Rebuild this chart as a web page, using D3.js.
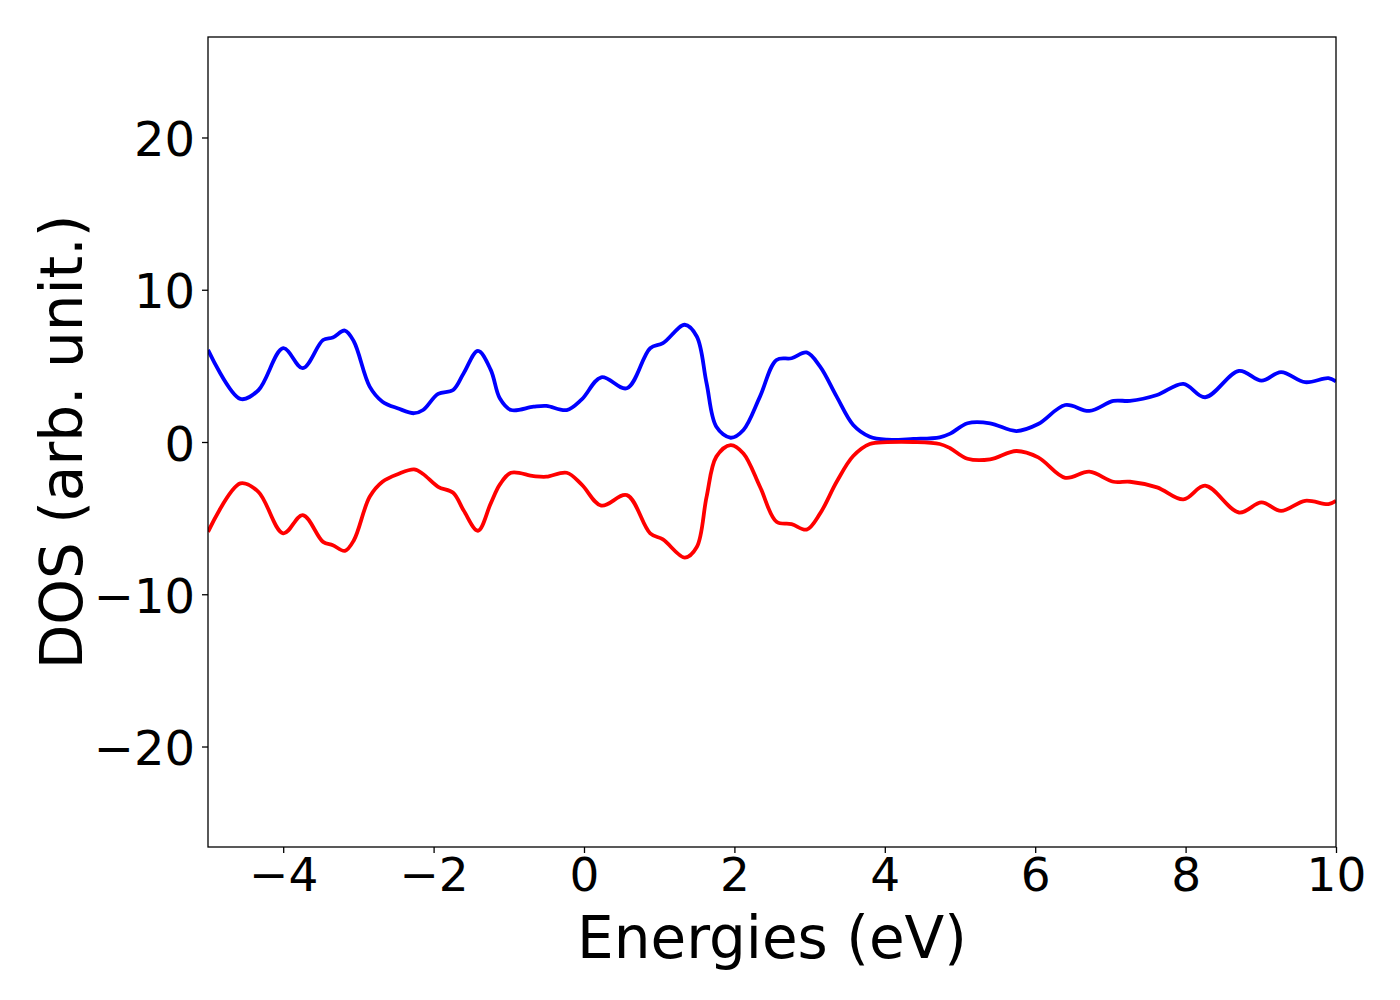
<!DOCTYPE html>
<html>
<head>
<meta charset="utf-8">
<script src="https://cdn.jsdelivr.net/npm/d3@7"></script>
<style>
  body { margin: 0; background: #fff; }
  text { font-family: "DejaVu Sans", sans-serif; }
</style>
</head>
<body>
<div id="chart_dos"></div>
<script>

// energies (eV), shared by both spin channels
var energies = [-5.00, -4.57, -4.33, -4.00, -3.74, -3.47, -3.34, -3.18, -3.06, -2.85,
    -2.68, -2.47, -2.26, -2.14, -1.94, -1.74, -1.60, -1.41, -1.24, -1.12,
    -0.97, -0.67, -0.50, -0.23, -0.03, 0.23, 0.57, 0.88, 1.05, 1.34,
    1.50, 1.63, 1.76, 1.95, 2.12, 2.34, 2.56, 2.76, 2.96, 3.14,
    3.36, 3.58, 3.80, 4.03, 4.38, 4.73, 4.87, 5.10, 5.40, 5.75,
    6.04, 6.40, 6.72, 7.04, 7.26, 7.62, 7.97, 8.26, 8.71, 9.01,
    9.27, 9.59, 9.90, 10.00];

// spin up (blue)
var dosUp = [6.05, 2.83, 3.40, 6.16, 4.85, 6.70, 6.86, 7.32, 6.60, 3.64,
    2.65, 2.20, 1.89, 2.10, 3.16, 3.42, 4.52, 5.99, 4.74, 2.87,
    2.10, 2.32, 2.37, 2.10, 2.80, 4.25, 3.53, 6.16, 6.49, 7.70,
    6.93, 3.86, 1.00, 0.28, 0.79, 2.98, 5.39, 5.50, 5.88, 4.95,
    2.98, 1.12, 0.35, 0.15, 0.20, 0.31, 0.55, 1.23, 1.23, 0.72,
    1.18, 2.43, 2.04, 2.70, 2.70, 3.09, 3.82, 2.94, 4.67, 4.03,
    4.59, 3.93, 4.19, 3.97];

// spin down (red)
var dosDown = [-5.90, -2.72, -3.27, -6.00, -4.80, -6.56, -6.78, -7.15, -6.45, -3.60,
    -2.61, -2.10, -1.80, -2.10, -2.94, -3.33, -4.50, -5.83, -4.03, -2.80,
    -2.02, -2.24, -2.28, -2.02, -2.80, -4.18, -3.49, -6.00, -6.40, -7.59,
    -6.90, -3.60, -0.96, -0.20, -0.75, -2.94, -5.24, -5.39, -5.75, -4.69,
    -2.61, -0.92, -0.13, -0.01, 0.00, -0.13, -0.41, -1.10, -1.14, -0.59,
    -1.01, -2.35, -1.95, -2.61, -2.61, -2.98, -3.77, -2.87, -4.63, -3.97,
    -4.52, -3.86, -4.08, -3.86];

var xTicks = [-4, -2, 0, 2, 4, 6, 8, 10];
var yTicks = [-20, -10, 0, 10, 20];

// set the dimensions and margins of the graph
var margin = { top: 37, right: 64, bottom: 153, left: 208 },
    width = 1400 - margin.left - margin.right,
    height = 1000 - margin.top - margin.bottom;

var svg = d3.select("#chart_dos")
    .append("svg")
    .attr("width", 1400)
    .attr("height", 1000)
    .append("g")
    .attr("transform", "translate(" + margin.left + "," + margin.top + ")");

var x = d3.scaleLinear().domain([-5, 10]).range([0, width]);
var y = d3.scaleLinear().domain([-26.6, 26.6]).range([height, 0]);

// matplotlib style minus sign
var fmt = function (d) { return String(d).replace("-", "\u2212"); };

// X axis
var gx = svg.append("g")
    .attr("transform", "translate(0," + height + ")")
    .call(d3.axisBottom(x).tickValues(xTicks).tickFormat(fmt).tickSize(6).tickPadding(5));
gx.select(".domain").remove();
gx.selectAll("line").attr("stroke", "#000").attr("stroke-width", 1.3);
gx.selectAll("text").attr("font-size", 47).attr("fill", "#000");

// Y axis
var gy = svg.append("g")
    .call(d3.axisLeft(y).tickValues(yTicks).tickFormat(fmt).tickSize(6).tickPadding(7));
gy.select(".domain").remove();
gy.selectAll("line").attr("stroke", "#000").attr("stroke-width", 1.3);
gy.selectAll("text").attr("font-size", 48).attr("fill", "#000").attr("dy", "0.38em");

var line = function (vals) {
    return d3.line()
        .x(function (d, i) { return x(energies[i]); })
        .y(function (d) { return y(d); })
        .curve(d3.curveCatmullRom.alpha(0.5))(vals);
};

// clip so the curves stop at the frame
svg.append("clipPath").attr("id", "plotclip")
    .append("rect").attr("width", width).attr("height", height);

svg.append("path")
    .attr("d", line(dosUp))
    .attr("fill", "none")
    .attr("stroke", "#0000ff")
    .attr("stroke-width", 3.8)
    .attr("clip-path", "url(#plotclip)");

svg.append("path")
    .attr("d", line(dosDown))
    .attr("fill", "none")
    .attr("stroke", "#ff0000")
    .attr("stroke-width", 3.8)
    .attr("clip-path", "url(#plotclip)");

// frame
svg.append("rect")
    .attr("width", width)
    .attr("height", height)
    .attr("fill", "none")
    .attr("stroke", "#000")
    .attr("stroke-width", 1.3);

// axis labels
svg.append("text")
    .attr("x", width / 2)
    .attr("y", 958 - margin.top)
    .attr("text-anchor", "middle")
    .attr("font-size", 58)
    .text("Energies (eV)");

svg.append("text")
    .attr("transform", "translate(" + (82 - margin.left) + "," + (height / 2) + ") rotate(-90)")
    .attr("text-anchor", "middle")
    .attr("font-size", 58)
    .text("DOS (arb. unit.)");

</script>
</body>
</html>
